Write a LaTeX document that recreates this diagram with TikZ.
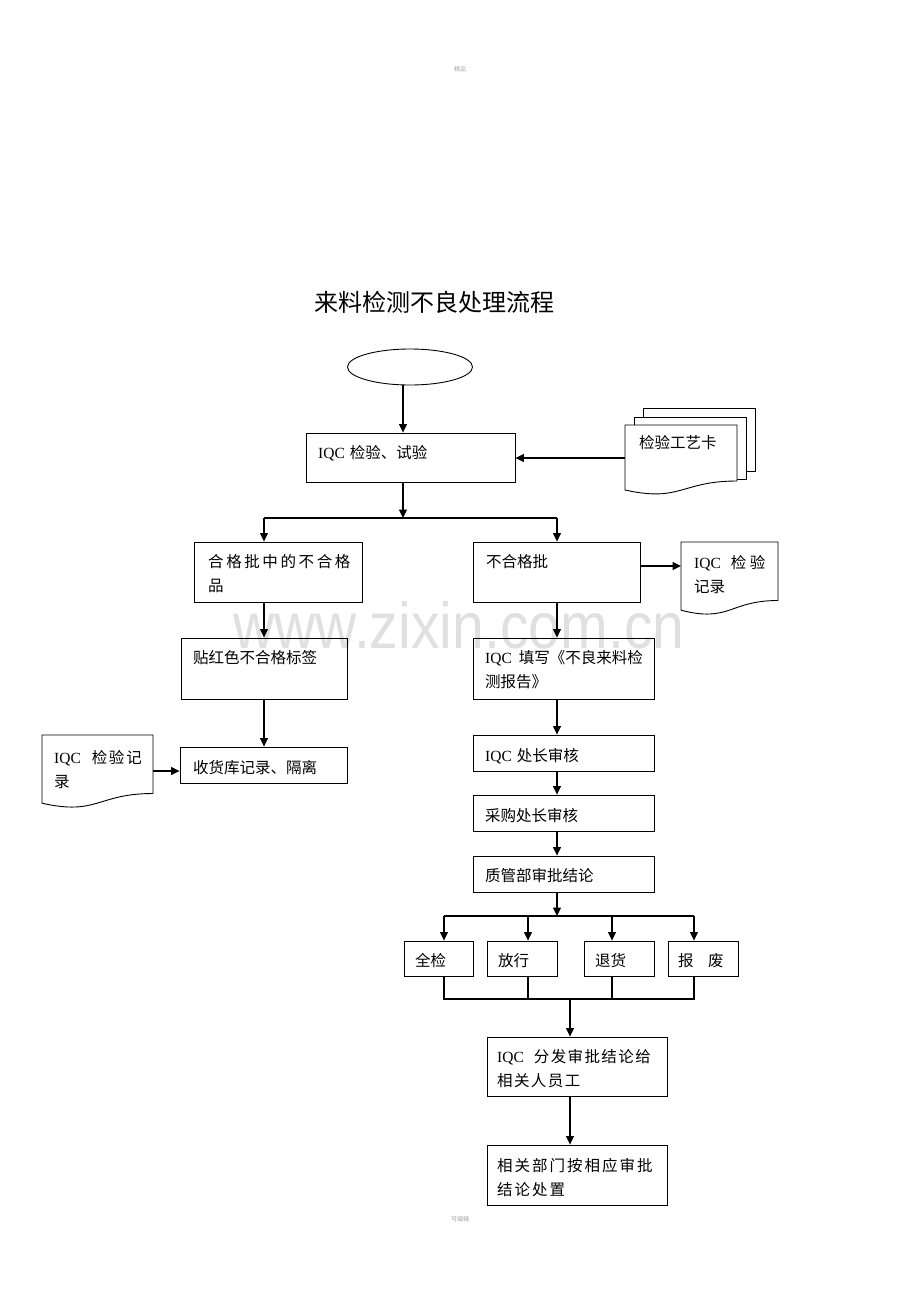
\documentclass[tikz,border=0pt]{standalone}
\usepackage{fontspec}
\usepackage{graphicx}
\setmainfont{Noto Sans CJK SC}
\newfontfamily\lat{Liberation Serif}
\newfontfamily\wmfont{Liberation Sans}
\usetikzlibrary{arrows.meta,shapes.geometric}
\newcommand\IQC{{\lat IQC}}
\newcommand\gp[1]{\hspace{#1pt}}
\tikzset{
  box/.style={draw, line width=0.9pt, inner sep=0},
  lbl/.style={inner sep=0, anchor=base west},
  arr/.style={line width=1.1pt, -{Triangle[length=8.5pt,width=8pt]}},
  ln/.style={line width=1.1pt},
  docline/.style={draw, line width=0.9pt, fill=white},
}
\newcommand\bx[5]{\node[box, minimum width={(#4-#2)*1pt}, minimum height={(#5-#3)*1pt}] (#1) at ({(#2+#4)/2},{(#3+#5)/2}) {};}
\newcommand\tx[4]{\node[lbl] (#1) at (#2,#3) {\parbox[t]{220pt}{\raggedright\fontsize{15.5}{24}\selectfont #4}};}
\begin{document}
\begin{tikzpicture}[x=1pt,y=-1pt]
\useasboundingbox[fill=white] (0,0) rectangle (920,1302);
% watermark, header, footer
\node[inner sep=0, anchor=base, text=black!12, font=\wmfont\fontsize{65}{65}\selectfont] (wmark) at (459,648) {\scalebox{0.88}[1]{www.zixin.com.cn}};
\node[inner sep=0, text=black!35, font=\fontsize{6}{6}\selectfont] (hdr) at (460,69) {精品};
\node[inner sep=0, text=black!35, font=\fontsize{6}{6}\selectfont] (ftr) at (460,1219) {可编辑};
% title
\node[inner sep=0, anchor=base, font=\fontsize{24}{24}\selectfont] (title) at (434,311) {来料检测不良处理流程};
% start ellipse
\node[draw, line width=0.9pt, ellipse, minimum width=125pt, minimum height=36pt, inner sep=0] (start) at (410,367) {};
% boxes
\bx{b1}{306}{433}{515}{482}
\bx{ok}{194}{542}{362}{602}
\bx{ng}{473}{542}{640}{602}
\bx{red}{181}{638}{347}{699}
\bx{rep}{473}{638}{654}{699}
\bx{wh}{180}{747}{347}{783}
\bx{a1}{473}{735}{654}{771}
\bx{a2}{473}{795}{654}{831}
\bx{a3}{473}{856}{654}{892}
\bx{q1}{404}{941}{473}{976}
\bx{q2}{487}{941}{557}{976}
\bx{q3}{584}{941}{654}{976}
\bx{q4}{668}{941}{738}{976}
\bx{d1}{487}{1037}{667}{1096}
\bx{d2}{487}{1145}{667}{1205}
% stacked document (检验工艺卡)
\draw[docline] (643,408) rectangle (755,471);
\draw[docline] (634,417) rectangle (746,479);
\draw[docline] (625,425) -- (737,425) -- (737,481) .. controls (681,481) and (681,502.5) .. (625,490) -- cycle;
% right document
\draw[docline] (681,542) -- (778,542) -- (778,600.5) .. controls (729.5,600.5) and (729.5,622.8) .. (681,610.2) -- cycle;
% left document
\draw[docline] (42,735) -- (153,735) -- (153,793.5) .. controls (97.5,793.5) and (97.5,815.8) .. (42,803.2) -- cycle;
\coordinate (card-w) at (625,458);
\coordinate (recR-w) at (681,566);
\coordinate (recL-e) at (153,771);
% texts
\tx{b1t}{318}{458}{\IQC\gp{5}检验、试验}
\tx{okt}{208}{567}{合\gp{2.6}格\gp{2.6}批\gp{2.6}中\gp{2.6}的\gp{2.6}不\gp{2.6}合\gp{2.6}格\\品}
\tx{ngt}{486}{567}{不合格批}
\tx{redt}{193}{663}{贴红色不合格标签}
\tx{rept}{485}{663}{\IQC\gp{7}填写《不良来料检\\测报告》}
\tx{wht}{193}{773}{收货库记录、隔离}
\tx{a1t}{485}{761}{\IQC\gp{5}处长审核}
\tx{a2t}{485}{821}{采购处长审核}
\tx{a3t}{485}{881}{质管部审批结论}
\tx{q1t}{415}{966}{全检}
\tx{q2t}{498}{966}{放行}
\tx{q3t}{595}{966}{退货}
\tx{q4t}{678}{966}{报\gp{14.5}废}
\tx{d1t}{497}{1062}{\IQC\gp{10}分\gp{1.4}发\gp{1.4}审\gp{1.4}批\gp{1.4}结\gp{1.4}论\gp{1.4}给\\相\gp{1.4}关\gp{1.4}人\gp{1.4}员\gp{1.4}工}
\tx{d2t}{497}{1171}{相\gp{2}关\gp{2}部\gp{2}门\gp{2}按\gp{2}相\gp{2}应\gp{2}审\gp{2}批\\结\gp{2}论\gp{2}处\gp{2}置}
\tx{cardt}{639}{448}{检验工艺卡}
\tx{recRt}{694}{568}{\IQC\gp{10}检\gp{3.5}验\\记录}
\tx{recLt}{54}{763}{\IQC\gp{11}检\gp{1.5}验\gp{2}记\\录}
% connectors
\coordinate (c0) at (403,385);
\draw[arr] (c0) -- (c0 |- b1.north);
\coordinate (j0) at (403,518);
\coordinate (jl) at (264,518);
\coordinate (jr) at (557,518);
\draw[arr] (j0 |- b1.south) -- (j0);
\draw[ln] (jl) -- (jr);
\draw[arr] (jl) -- (jl |- ok.north);
\draw[arr] (jr) -- (jr |- ng.north);
\draw[arr] (card-w) -- (card-w -| b1.east);
\draw[arr] (ng.east |- recR-w) -- (recR-w);
\draw[arr] (jl |- ok.south) -- (jl |- red.north);
\draw[arr] (jl |- red.south) -- (jl |- wh.north);
\draw[arr] (recL-e) -- (recL-e -| wh.west);
\draw[arr] (jr |- ng.south) -- (jr |- rep.north);
\draw[arr] (jr |- rep.south) -- (jr |- a1.north);
\draw[arr] (jr |- a1.south) -- (jr |- a2.north);
\draw[arr] (jr |- a2.south) -- (jr |- a3.north);
\coordinate (j2) at (557,916);
\coordinate (qa) at (444,916);
\coordinate (qb) at (528,916);
\coordinate (qc) at (612,916);
\coordinate (qd) at (694,916);
\draw[arr] (jr |- a3.south) -- (j2);
\draw[ln] (qa) -- (qd);
\draw[arr] (qa) -- (qa |- q1.north);
\draw[arr] (qb) -- (qb |- q2.north);
\draw[arr] (qc) -- (qc |- q3.north);
\draw[arr] (qd) -- (qd |- q4.north);
\coordinate (m0) at (444,999);
\coordinate (m1) at (694,999);
\draw[ln] (qa |- q1.south) -- (m0) -- (m1) -- (qd |- q4.south);
\draw[ln] (qb |- q2.south) -- (qb |- m0);
\draw[ln] (qc |- q3.south) -- (qc |- m0);
\coordinate (j3) at (570,999);
\draw[arr] (j3) -- (j3 |- d1.north);
\draw[arr] (j3 |- d1.south) -- (j3 |- d2.north);
\end{tikzpicture}
\end{document}
